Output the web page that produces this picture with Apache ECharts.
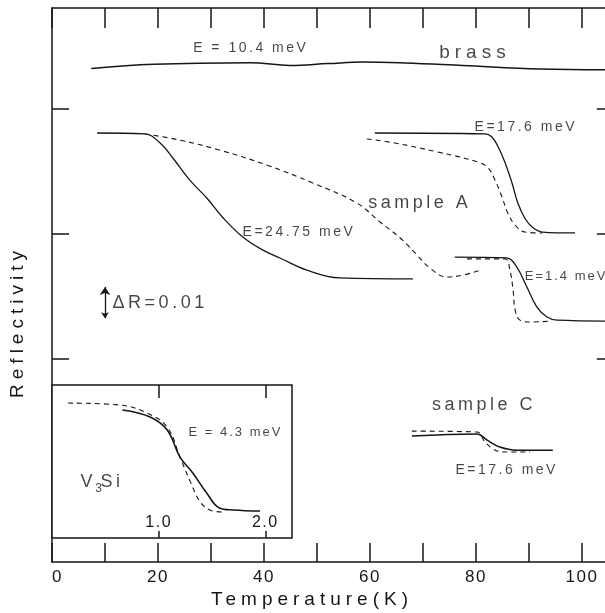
<!DOCTYPE html>
<html>
<head>
<meta charset="utf-8">
<script src="https://cdn.jsdelivr.net/npm/echarts@6/dist/echarts.min.js"></script>
<style>
  html, body { margin: 0; padding: 0; background: #fff; overflow: hidden; }
  #chart { width: 605px; height: 613px; }
</style>
</head>
<body>
<div id="chart"></div>
<script>
// temperature (K), reflectivity in units of 0.01 (curves offset as in the figure)
const brass = [[7.4, 15.79], [19.2, 15.93], [37.5, 15.98], [44.9, 15.89], [52.1, 15.95], [58.7, 16.0], [66.6, 15.97], [77.5, 15.89], [92.1, 15.78], [105.6, 15.75]]
const a2475Solid = [[8.5, 13.73], [17.5, 13.7], [20.4, 13.41], [22.8, 12.93], [26.0, 12.22], [29.2, 11.65], [32.3, 11.01], [36.0, 10.4], [39.8, 9.98], [43.0, 9.73], [48.1, 9.34], [54.3, 9.09], [68.1, 9.06]]
const a2475Dashed = [[17.5, 13.7], [24.2, 13.5], [31.7, 13.18], [40.6, 12.7], [49.2, 12.13], [57.5, 11.49], [61.9, 10.88], [65.7, 10.37], [68.9, 9.82], [71.3, 9.41], [74.5, 9.12], [77.5, 9.18], [80.8, 9.34]]
const a176Solid = [[60.9, 13.73], [81.7, 13.7], [83.0, 13.6], [84.2, 13.28], [85.5, 12.77], [86.8, 12.13], [87.9, 11.49], [89.2, 11.01], [90.6, 10.72], [92.5, 10.56], [98.7, 10.53]]
const a176Dashed = [[59.4, 13.54], [64.7, 13.41], [72.8, 13.12], [80.4, 12.8], [82.3, 12.61], [83.6, 12.22], [84.9, 11.68], [86.0, 11.17], [87.4, 10.78], [89.2, 10.56], [92.5, 10.53]]
const a14Solid = [[76.0, 9.76], [85.8, 9.73], [87.7, 9.44], [89.6, 8.8], [91.5, 8.16], [93.4, 7.84], [95.3, 7.74], [105.6, 7.71]]
const a14Dashed = [[78.3, 9.7], [85.5, 9.7], [86.4, 9.34], [87.0, 8.7], [87.4, 8.06], [88.3, 7.74], [90.2, 7.68], [94.0, 7.71]]
const c176Solid = [[67.9, 4.03], [80.2, 4.1], [82.1, 3.9], [84.5, 3.68], [87.7, 3.58], [94.5, 3.58]]
const c176Dashed = [[67.9, 4.19], [80.2, 4.16], [81.7, 3.84], [83.2, 3.62], [85.1, 3.52], [90.2, 3.52]]
const deltaArrow = [[10.0, 7.8], [10.0, 8.8]]
const yTicks = [6.5, 10.5, 14.5]

// inset: reduced temperature T/Tc, arbitrary reflectivity
const v3siSolid = [[0.66, 8.37], [0.92, 7.91], [1.08, 7.06], [1.2, 5.29], [1.32, 4.25], [1.45, 2.94], [1.57, 1.96], [1.7, 1.83], [1.95, 1.76]]
const v3siDashed = [[0.15, 8.82], [0.64, 8.69], [0.89, 8.17], [1.08, 7.25], [1.2, 5.29], [1.29, 3.79], [1.39, 2.35], [1.48, 1.83], [1.59, 1.7]]
const insetTicks = [1, 2]

// [T, R, text]
const energyLabels = [[37.5, 16.45, 'E = 10.4 meV'], [89.4, 13.92, 'E=17.6 meV'], [46.6, 10.56, 'E=24.75 meV'], [85.8, 2.94, 'E=17.6 meV']]
const smallLabels = [[97.0, 9.15, 'E=1.4 meV']]
const sampleLabels = [[69.4, 11.49, 'sample A'], [81.5, 5.02, 'sample C'], [20.4, 8.29, 'ΔR=0.01']]
const brassLabel = [[79.8, 16.29, 'brass']]
const insetLabels = [[1.72, 6.93, 'E = 4.3 meV']]

// the original lettering is widely spaced: spacing by font size
const SPACING = { 12: 0, 13: 2, 14: 2.5, 16: 1.5, 17: 1.5, 18: 3.5, 19: 5 }
const fillText = CanvasRenderingContext2D.prototype.fillText
CanvasRenderingContext2D.prototype.fillText = function () {
  const m = /(\d+(?:\.\d+)?)px/.exec(this.font)
  const sp = m ? SPACING[Math.round(+m[1])] : 0
  if ('letterSpacing' in this) this.letterSpacing = (sp || 0) + 'px'
  fillText.apply(this, arguments)
  if ('letterSpacing' in this) this.letterSpacing = '0px'
}

const ink = '#161616'
const font = '"Liberation Sans", Arial, sans-serif'
const tMax = 132.08 // plot runs well past the right edge of the picture
const rightTickFrom = 102.8 // right-hand frame ticks start here
const rightTickTo = 106.5
const insetYMax = 10

function curve (data, dashed, width, xi, yi) {
  return {
    type: 'line',
    data: data,
    xAxisIndex: xi || 0,
    yAxisIndex: yi || 0,
    showSymbol: false,
    smooth: 0.4,
    silent: true,
    lineStyle: { color: ink, width: width || (dashed ? 1.1 : 1.3), type: dashed ? [5, 4] : 'solid' }
  }
}

function labels (data, size, xi, yi) {
  return {
    type: 'scatter',
    data: data,
    xAxisIndex: xi || 0,
    yAxisIndex: yi || 0,
    symbolSize: 0,
    silent: true,
    label: {
      show: true,
      position: 'inside',
      color: ink,
      fontSize: size,
      fontFamily: font,
      formatter: p => p.data[2]
    }
  }
}

function segments (coords, xi, yi, z) {
  return {
    type: 'lines',
    coordinateSystem: 'cartesian2d',
    xAxisIndex: xi,
    yAxisIndex: yi,
    z: z || 2,
    silent: true,
    lineStyle: { color: ink, width: 1.5, opacity: 1 },
    data: coords.map(c => ({ coords: c }))
  }
}

const axisLine = { show: true, onZero: false, lineStyle: { color: ink, width: 1.5 } }
const tickStyle = { color: ink, width: 1.5 }

const myChart = echarts.init(document.getElementById('chart'))
myChart.setOption({
  animation: false,
  backgroundColor: '#fff',
  textStyle: { fontFamily: font },
  grid: [
    { left: 52, top: 8, width: 700, height: 554, outerBoundsMode: 'none', containLabel: false },
    { left: 52, top: 385, width: 240, height: 153, outerBoundsMode: 'none', containLabel: false, show: true, backgroundColor: '#fff', borderColor: ink, borderWidth: 1.5, z: 3 }
  ],
  xAxis: [
    {
      type: 'value', gridIndex: 0, position: 'bottom', min: 0, max: tMax, interval: 10,
      axisLine: axisLine,
      axisTick: { inside: true, length: 19, lineStyle: tickStyle },
      axisLabel: { margin: 7, fontSize: 17, color: ink, alignMinLabel: 'left', formatter: v => (v % 20 === 0 && v <= 100 ? String(v) : '') },
      splitLine: { show: false }
    },
    {
      type: 'value', gridIndex: 0, position: 'top', min: 0, max: tMax, interval: 10,
      axisLine: axisLine,
      axisTick: { inside: true, length: 20, lineStyle: tickStyle },
      axisLabel: { show: false },
      splitLine: { show: false }
    },
    {
      type: 'value', gridIndex: 1, position: 'bottom', min: 0, max: 2.25, interval: 1, z: 5,
      axisLine: { show: false, onZero: false },
      axisTick: { show: false },
      axisLabel: { inside: true, margin: 7, fontSize: 16, color: ink, formatter: v => (v === 1 || v === 2 ? v.toFixed(1) : '') },
      splitLine: { show: false }
    }
  ],
  yAxis: [
    {
      type: 'value', gridIndex: 0, position: 'left', min: 0, max: 17.73,
      axisLine: axisLine,
      axisTick: { show: true, inside: true, length: 17, customValues: yTicks, lineStyle: tickStyle },
      axisLabel: { show: false },
      splitLine: { show: false }
    },
    { type: 'value', gridIndex: 1, min: 0, max: insetYMax, show: false }
  ],
  graphic: [
    { type: 'text', x: 18, y: 322, rotation: Math.PI / 2, style: { text: 'Reflectivity', fontSize: 19, fontFamily: font, fill: ink, align: 'center', verticalAlign: 'middle' } },
    { type: 'text', x: 312, y: 600, style: { text: 'Temperature(K)', fontSize: 19, fontFamily: font, fill: ink, align: 'center', verticalAlign: 'middle' } }
  ],
  series: [
    curve(brass, false, 1.5),
    curve(a2475Solid, false),
    curve(a2475Dashed, true),
    curve(a176Solid, false),
    curve(a176Dashed, true),
    curve(a14Solid, false),
    curve(a14Dashed, true),
    curve(c176Solid, false, 1.5),
    curve(c176Dashed, true),
    {
      type: 'lines',
      coordinateSystem: 'cartesian2d',
      xAxisIndex: 0,
      yAxisIndex: 0,
      silent: true,
      symbol: ['arrow', 'arrow'],
      symbolSize: [6, 8],
      lineStyle: { color: ink, width: 1.3, opacity: 1 },
      data: [{ coords: deltaArrow }]
    },
    // right-hand frame ticks (the frame itself lies past the edge)
    segments(yTicks.map(v => [[rightTickFrom, v], [rightTickTo, v]]), 0, 0),
    labels(energyLabels, 14),
    labels(smallLabels, 13),
    labels(sampleLabels, 18),
    labels(brassLabel, 19),
    // inset ticks: long ones from the top, short ones from the bottom
    segments(insetTicks.map(t => [[t, insetYMax], [t, insetYMax - 0.85]]).concat(insetTicks.map(t => [[t, 0], [t, 0.45]])), 2, 1, 4),
    Object.assign(curve(v3siSolid, false, 1.6, 2, 1), { z: 4 }),
    Object.assign(curve(v3siDashed, true, 1.1, 2, 1), { z: 4 }),
    Object.assign(labels(insetLabels, 13, 2, 1), { z: 4 }),
    {
      type: 'scatter',
      xAxisIndex: 2,
      yAxisIndex: 1,
      z: 4,
      symbolSize: 0,
      silent: true,
      data: [[0.46, 3.66]],
      label: {
        show: true,
        position: 'inside',
        formatter: '{a|V}{b|3}{a|Si}',
        rich: {
          a: { fontSize: 18, lineHeight: 26, color: ink, fontFamily: font },
          b: { fontSize: 12, lineHeight: 12, color: ink, fontFamily: font, verticalAlign: 'bottom', padding: [0, 2, 0, 1] }
        }
      }
    }
  ]
})
</script>
</body>
</html>
